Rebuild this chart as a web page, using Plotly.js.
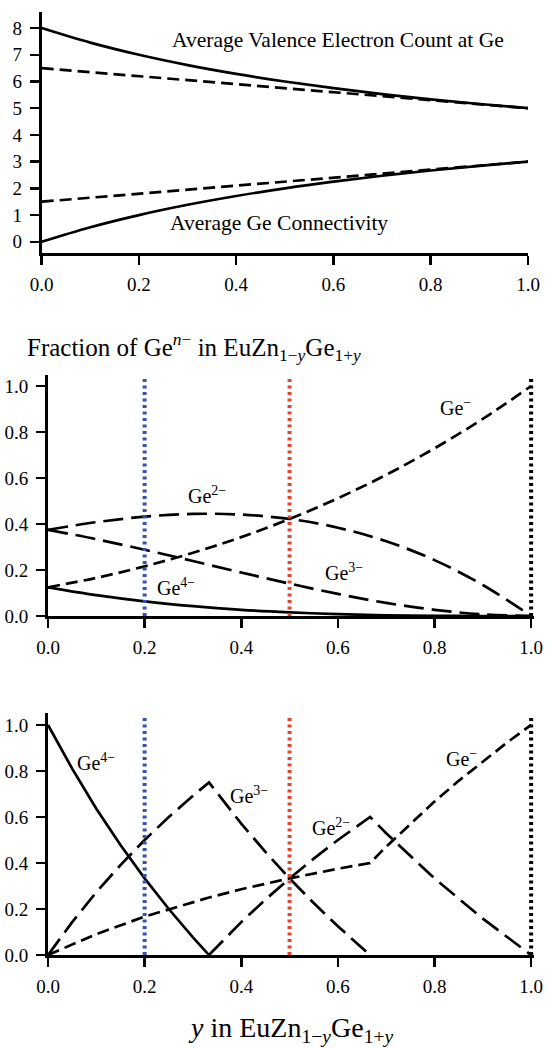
<!DOCTYPE html>
<html><head><meta charset="utf-8">
<script src="https://cdn.plot.ly/plotly-3.0.1.min.js"></script>
<style>html,body{margin:0;padding:0;background:#fff}</style>
</head><body><div id="chart" style="width:548px;height:1048px"></div>
<script>
// ---------- Top panel: averages vs y ----------
const yTop = [0.0, 0.1, 0.2, 0.3, 0.4, 0.5, 0.6, 0.7, 0.8, 0.9, 1.0];
const valenceSolid  = [8.0, 7.455, 7.0, 6.615, 6.286, 6.0, 5.75, 5.529, 5.333, 5.158, 5.0];
const valenceDashed = [6.5, 6.35, 6.2, 6.05, 5.9, 5.75, 5.6, 5.45, 5.3, 5.15, 5.0];
const connectSolid  = [0.0, 0.545, 1.0, 1.385, 1.714, 2.0, 2.25, 2.471, 2.667, 2.842, 3.0];
const connectDashed = [1.5, 1.65, 1.8, 1.95, 2.1, 2.25, 2.4, 2.55, 2.7, 2.85, 3.0];

// ---------- Middle panel: fraction of Ge n- (statistical) ----------
const yMid   = [0.0, 0.1, 0.2, 0.3, 0.4, 0.5, 0.6, 0.7, 0.8, 0.9, 1.0];
const midGe4 = [0.125, 0.091, 0.064, 0.043, 0.027, 0.016, 0.008, 0.003, 0.001, 0.0, 0.0];
const midGe3 = [0.375, 0.334, 0.288, 0.239, 0.189, 0.141, 0.096, 0.057, 0.027, 0.007, 0.0];
const midGe2 = [0.375, 0.408, 0.432, 0.444, 0.441, 0.422, 0.384, 0.325, 0.243, 0.135, 0.0];
const midGe1 = [0.125, 0.166, 0.216, 0.275, 0.343, 0.422, 0.512, 0.614, 0.729, 0.857, 1.0];

// ---------- Bottom panel: fraction of Ge n- (ordered) ----------
const botGe4x = [0.0, 0.05, 0.1, 0.15, 0.2, 0.25, 0.3, 0.3333];
const botGe4  = [1.0, 0.810, 0.636, 0.478, 0.333, 0.2, 0.077, 0.0];
const botGe3x = [0.0, 0.05, 0.1, 0.15, 0.2, 0.25, 0.3, 0.3333, 0.4, 0.45, 0.5, 0.55, 0.6, 0.6667];
const botGe3  = [0.0, 0.143, 0.273, 0.391, 0.5, 0.6, 0.692, 0.75, 0.571, 0.448, 0.333, 0.226, 0.125, 0.0];
const botGe2x = [0.3333, 0.4, 0.45, 0.5, 0.55, 0.6, 0.6667, 0.7, 0.8, 0.9, 1.0];
const botGe2  = [0.0, 0.143, 0.241, 0.333, 0.419, 0.5, 0.6, 0.529, 0.333, 0.158, 0.0];
const botGe1x = [0.0, 0.1, 0.2, 0.3333, 0.4, 0.5, 0.6, 0.6667, 0.7, 0.75, 0.8, 0.85, 0.9, 0.95, 1.0];
const botGe1  = [0.0, 0.091, 0.167, 0.25, 0.286, 0.333, 0.375, 0.4, 0.471, 0.571, 0.667, 0.757, 0.842, 0.923, 1.0];

// ---------- Marked compositions (vertical dotted lines) ----------
const markedY      = [0.2, 0.5, 1.0];
const markedColors = ['#3d50b0', '#e2442c', '#000000'];

// ---------- Tick values ----------
const xTicks    = [0.0, 0.2, 0.4, 0.6, 0.8, 1.0];
const topYTicks = [0, 1, 2, 3, 4, 5, 6, 7, 8];
const fracTicks = [0.0, 0.2, 0.4, 0.6, 0.8, 1.0];

const SERIF = 'Liberation Serif';
const LW = 2.7;
const SOLID = 'solid', LONG = '20px,8px', SHORT = '12px,6px';

function tr(x, y, xa, ya, dash, shape) {
  return {x: x, y: y, xaxis: xa, yaxis: ya, mode: 'lines', showlegend: false,
          hoverinfo: 'skip',
          line: {color: '#000', width: LW, dash: dash, shape: shape || 'linear', smoothing: 1}};
}

const data = [
  tr(yTop, valenceSolid, 'x', 'y', SOLID, 'spline'),
  tr(yTop, valenceDashed, 'x', 'y', SHORT),
  tr(yTop, connectSolid, 'x', 'y', SOLID, 'spline'),
  tr(yTop, connectDashed, 'x', 'y', SHORT),

  tr(yMid, midGe4, 'x2', 'y2', SOLID, 'spline'),
  tr(yMid, midGe3, 'x2', 'y2', LONG, 'spline'),
  tr(yMid, midGe2, 'x2', 'y2', LONG, 'spline'),
  tr(yMid, midGe1, 'x2', 'y2', SHORT, 'spline'),

  tr(botGe4x, botGe4, 'x3', 'y3', SOLID),
  tr(botGe3x, botGe3, 'x3', 'y3', LONG),
  tr(botGe2x, botGe2, 'x3', 'y3', LONG),
  tr(botGe1x, botGe1, 'x3', 'y3', SHORT)
];

const shapes = [];
['2', '3'].forEach(function (k) {
  markedY.forEach(function (v, i) {
    shapes.push({type: 'line', xref: 'x' + k, yref: 'y' + k, x0: v, x1: v, y0: 0, y1: 1.03,
                 line: {color: markedColors[i], width: 4, dash: '3px,3.5px'}});
  });
});

const TICKFONT = {family: SERIF, size: 19, color: '#000', weight: 'normal'};

function xax(domain, anchor, range) {
  return {domain: domain, anchor: anchor, range: range, showline: true, linewidth: 3, linecolor: '#000',
          ticks: 'outside', ticklen: 9, tickwidth: 2.5, tickcolor: '#000', tickvals: xTicks,
          tickformat: '.1f', showgrid: false, zeroline: false, fixedrange: true,
          ticklabelstandoff: 3, tickfont: TICKFONT};
}
function yax(domain, anchor, range, ticks, fmt) {
  return {domain: domain, anchor: anchor, range: range, showline: true, linewidth: 3, linecolor: '#000',
          ticks: 'outside', ticklen: 9, tickwidth: 2.5, tickcolor: '#000', tickvals: ticks,
          tickformat: fmt, showgrid: false, zeroline: false, fixedrange: true,
          ticklabelstandoff: 4, tickfont: TICKFONT};
}

function lab(text, x, y, xr, yr, size) {
  return {text: text, x: x, y: y, xref: xr, yref: yr, showarrow: false,
          xanchor: 'center', yanchor: 'middle',
          font: {family: SERIF, size: size, color: '#000'}};
}

const annotations = [
  lab('Average Valence Electron Count at Ge', 0.61, 7.55, 'x', 'y', 21.5),
  lab('Average Ge Connectivity', 0.488, 0.70, 'x', 'y', 21.5),

  lab('Ge<sup>−</sup>', 0.844, 0.91, 'x2', 'y2', 20),
  lab('Ge<sup>2−</sup>', 0.329, 0.526, 'x2', 'y2', 20),
  lab('Ge<sup>4−</sup>', 0.265, 0.127, 'x2', 'y2', 20),
  lab('Ge<sup>3−</sup>', 0.613, 0.193, 'x2', 'y2', 20),

  lab('Ge<sup>4−</sup>', 0.099, 0.84, 'x3', 'y3', 20),
  lab('Ge<sup>3−</sup>', 0.415, 0.696, 'x3', 'y3', 20),
  lab('Ge<sup>2−</sup>', 0.585, 0.558, 'x3', 'y3', 20),
  lab('Ge<sup>−</sup>', 0.855, 0.855, 'x3', 'y3', 20),

  {text: 'Fraction of Ge<sup><i>n</i>−</sup> in EuZn<sub>1−<i>y</i></sub>Ge<sub>1+<i>y</i></sub>',
   x: 0.045, y: 0.669, xref: 'paper', yref: 'paper', showarrow: false,
   xanchor: 'left', yanchor: 'middle', font: {family: SERIF, size: 25, color: '#000'}},
  {text: '<i>y</i> in EuZn<sub>1−<i>y</i></sub>Ge<sub>1+<i>y</i></sub>',
   x: 0.531, y: 0.018, xref: 'paper', yref: 'paper', showarrow: false,
   xanchor: 'center', yanchor: 'middle', font: {family: SERIF, size: 28, color: '#000'}}
];

const layout = {
  width: 548, height: 1048,
  margin: {l: 0, r: 0, t: 0, b: 0},
  font: {family: SERIF, color: '#000'},
  paper_bgcolor: '#fff', plot_bgcolor: '#fff',
  showlegend: false,
  xaxis:  xax([0.0761, 0.9635], 'y', [0, 1]),
  yaxis:  yax([0.7586, 0.9885], 'x', [-0.42, 8.6], topYTicks, 'd'),
  xaxis2: xax([0.0876, 0.9745], 'y2', [0, 1.006]),
  yaxis2: yax([0.4122, 0.6422], 'x2', [0, 1.048], fracTicks, '.1f'),
  xaxis3: xax([0.0876, 0.9745], 'y3', [0, 1.006]),
  yaxis3: yax([0.0887, 0.3197], 'x3', [0, 1.052], fracTicks, '.1f'),
  shapes: shapes,
  annotations: annotations
};

Plotly.newPlot('chart', data, layout, {displayModeBar: false, staticPlot: true});
</script></body></html>
